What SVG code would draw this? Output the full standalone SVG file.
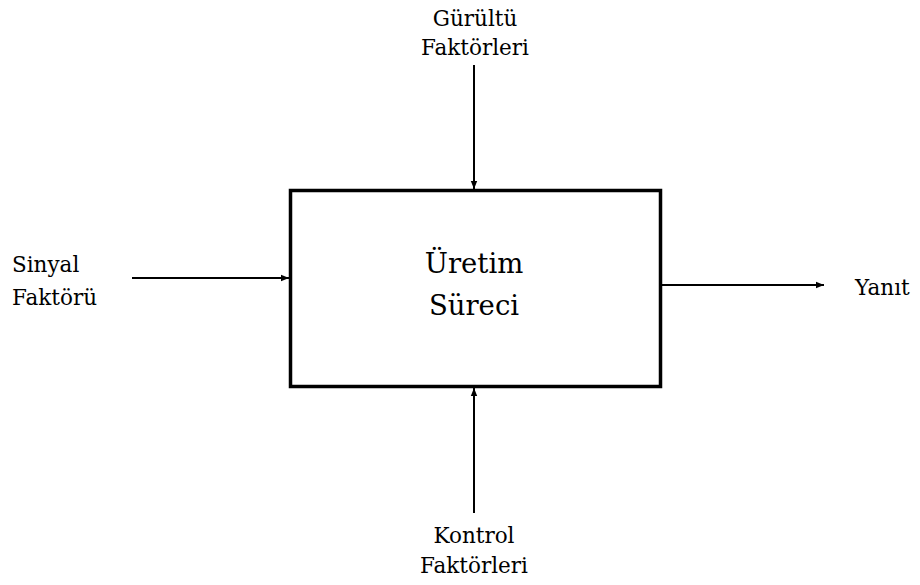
<svg xmlns="http://www.w3.org/2000/svg" width="920" height="585" viewBox="0 0 920 585">
<defs>
<style>
.lbl{font-family:'DejaVu Serif','Liberation Serif',serif;font-size:21.5px;fill:#000}
.main{font-family:'DejaVu Serif','Liberation Serif',serif;font-size:27.5px;fill:#000}
.conn{stroke:#000;stroke-width:2;fill:none}
</style>
<marker id="ah" viewBox="0 0 10 10" refX="10" refY="5" markerWidth="4" markerHeight="4" orient="auto" markerUnits="strokeWidth">
<path d="M0,1 L10,5 L0,9 z" fill="#000"/>
</marker>
</defs>
<rect width="920" height="585" fill="#fff"/>
<g id="connectors">
<line class="conn" x1="474" y1="65" x2="474" y2="189" marker-end="url(#ah)"/>
<line class="conn" x1="474" y1="513" x2="474" y2="388" marker-end="url(#ah)"/>
<line class="conn" x1="132" y1="278" x2="289" y2="278" marker-end="url(#ah)"/>
<line class="conn" x1="662" y1="285" x2="824" y2="285" marker-end="url(#ah)"/>
</g>
<g id="process">
<rect x="290.5" y="190.5" width="370" height="196" fill="#fff" stroke="#000" stroke-width="3.5"/>
<text class="main" x="474" y="273" text-anchor="middle">Üretim</text>
<text class="main" x="474" y="315" text-anchor="middle">Süreci</text>
</g>
<g id="noise">
<text class="lbl" x="475" y="26" text-anchor="middle">Gürültü</text>
<text class="lbl" x="475" y="55" text-anchor="middle">Faktörleri</text>
</g>
<g id="signal">
<text class="lbl" x="12" y="272">Sinyal</text>
<text class="lbl" x="12" y="305">Faktörü</text>
</g>
<g id="response">
<text class="lbl" x="855" y="295">Yanıt</text>
</g>
<g id="control">
<text class="lbl" x="474" y="543" text-anchor="middle">Kontrol</text>
<text class="lbl" x="474" y="573" text-anchor="middle">Faktörleri</text>
</g>
</svg>
